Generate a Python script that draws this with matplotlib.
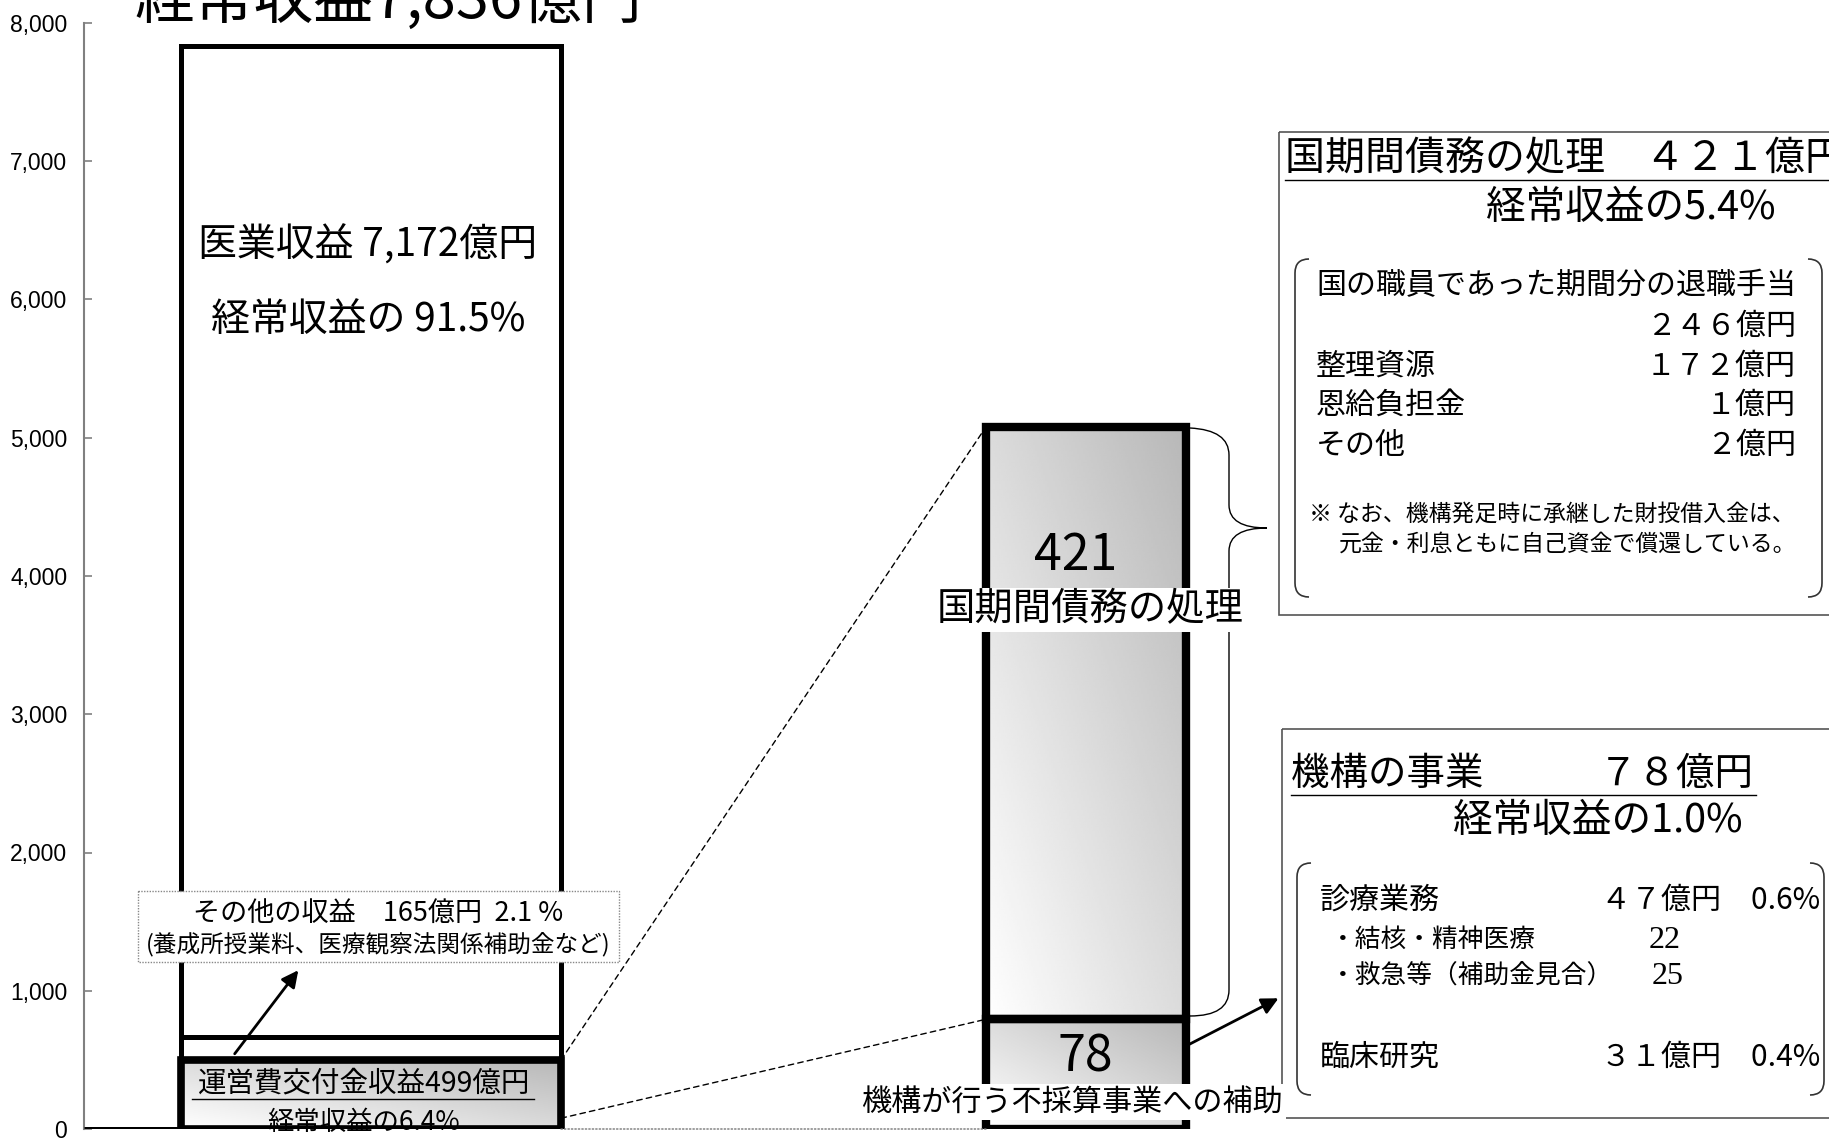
import numpy as np
import matplotlib.pyplot as plt
from matplotlib.patches import Rectangle, PathPatch, ConnectionPatch, FancyArrowPatch
from matplotlib.path import Path
from matplotlib.lines import Line2D

plt.rcParams['font.family'] = ['Noto Sans CJK JP', 'DejaVu Sans']

# values in 億円
total_income = 7836
left_names = ['運営費交付金収益', 'その他の収益', '医業収益']
left_values = [499, 165, 7172]
left_pcts = [6.4, 2.1, 91.5]
right_names = ['機構の事業', '国期間債務の処理']
right_values = [78, 421]
right_pcts = [1.0, 5.4]
yticks = [0, 1000, 2000, 3000, 4000, 5000, 6000, 7000, 8000]
debt_items = ['国の職員であった期間分の退職手当', '整理資源', '恩給負担金', 'その他']
debt_values = ['２４６億円', '１７２億円', '１億円', '２億円']
biz_items = ['診療業務', '臨床研究']
biz_values = ['４７億円　0.6%', '３１億円　0.4%']
care_items = ['・結核・精神医療', '・救急等（補助金見合）']
care_values = [22, 25]

W, H = 1829, 1140
fig = plt.figure(figsize=(W / 100, H / 100), dpi=100)

# main axis: y=0 at px 1129, y=8000 at px 23, spine at px 84
ax = fig.add_axes([84 / W, (H - 1129) / H, (W - 84) / W, (1129 - 23) / H])
ax2 = fig.add_axes(ax.get_position(), sharex=ax)
ov = fig.add_axes([0, 0, 1, 1])
ov.set_xlim(0, W)
ov.set_ylim(H, 0)
ov.axis('off')
ov.patch.set_visible(False)
ax2.axis('off')
ax2.patch.set_visible(False)


def gradient(a, patch, light=1.0, dark=0.72):
    x0, y0 = patch.get_x(), patch.get_y()
    w, h = patch.get_width(), patch.get_height()
    u, v = np.meshgrid(np.linspace(0, 1, 100), np.linspace(0, 1, 200))
    g = light + (dark - light) * (u + v) / 2
    im = a.imshow(g, cmap='gray', vmin=0, vmax=1, extent=[x0, x0 + w, y0, y0 + h],
                  origin='lower', aspect='auto', zorder=1, interpolation='bilinear')
    im.set_clip_path(patch)


# left stacked bar
lb = ax.bar(287, left_values, width=380, bottom=np.cumsum([0] + left_values[:-1]),
            facecolor='none', edgecolor='black', linewidth=[5.5, 3.6, 3.6], zorder=3)
gradient(ax, lb[0])
bar_l = lb[0].get_x()
bar_r = lb[0].get_x() + lb[0].get_width()
ax.hlines(0, 0, bar_l, color='black', lw=3.6, zorder=3)

# right zoomed bar
rb = ax2.bar(1002, right_values, width=200, bottom=np.cumsum([0] + right_values[:-1]),
             facecolor='none', edgecolor='black', linewidth=6, zorder=3)
for p in rb:
    gradient(ax2, p)
rb_l = rb[0].get_x()

ax.set_xlim(0, W - 84)
ax.set_ylim(0, 8000)
ax2.set_ylim(0, 786)
ax.set_yticks(yticks)
ax.set_yticklabels([f'{t:,}' for t in yticks],
                   fontfamily=['Liberation Sans', 'DejaVu Sans'], fontsize=16.5)
ax.tick_params(axis='y', direction='in', length=6, width=1.2, color='#808080', pad=12)
ax.set_xticks([])
for s in ['top', 'right', 'bottom']:
    ax.spines[s].set_visible(False)
ax.spines['left'].set_color('#808080')
ax.spines['left'].set_linewidth(1.5)
ax.patch.set_visible(False)

# zoom connectors
for val, ls, col in [(left_values[0], (0, (4, 3)), 'black'),
                     (right_values[0], (0, (4, 3)), 'black'),
                     (0, (0, (1, 1.5)), '#777777')]:
    fig.add_artist(ConnectionPatch(xyA=(bar_r, val), coordsA=ax.transData,
                                   xyB=(rb_l, val), coordsB=ax2.transData,
                                   linestyle=ls, color=col, lw=1))

# title (clipped at the top edge)
ov.text(134, 18, f'経常収益{total_income:,}億円', fontsize=43, ha='left', va='baseline')

# left bar labels
ov.text(368, 245, f'{left_names[2]} {left_values[2]:,}億円', fontsize=28, ha='center', va='center')
ov.text(368, 320, f'経常収益の {left_pcts[2]}%', fontsize=28, ha='center', va='center')

ov.add_patch(Rectangle((138, 891), 481, 71, facecolor='white', edgecolor='#888888',
                       lw=1, linestyle=(0, (1, 1)), zorder=5))
ov.text(378, 913, f'{left_names[1]}　{left_values[1]}億円  {left_pcts[1]} %', fontsize=19.5,
        ha='center', va='center', zorder=6)
ov.text(378, 944, '(養成所授業料、医療観察法関係補助金など)', fontsize=17,
        ha='center', va='center', zorder=6)
ov.add_patch(FancyArrowPatch((233, 1056), (300, 968), arrowstyle='-|>', mutation_scale=25,
                             color='black', lw=2))

ov.text(364, 1084, f'{left_names[0]}{left_values[0]}億円', fontsize=20.5, ha='center', va='center')
ov.add_line(Line2D([192, 534], [1099, 1099], color='black', lw=1))
ax.text(364, 1122, f'経常収益の{left_pcts[0]}%', fontsize=19, ha='center', va='center',
        transform=ov.transData, zorder=2)

# right bar labels
ov.text(1076, 556, f'{right_values[1]}', fontsize=36, ha='center', va='center')
ov.text(1090, 610, right_names[1], fontsize=27.6, ha='center', va='center',
        bbox=dict(facecolor='white', edgecolor='none', pad=2))
ov.text(1085, 1058, f'{right_values[0]}', fontsize=36, ha='center', va='center')
ov.text(1072, 1102, '機構が行う不採算事業への補助', fontsize=21.7, ha='center', va='center',
        bbox=dict(facecolor='white', edgecolor='none', pad=2), zorder=6)

# brace
brace = Path([(1190, 428), (1229, 430), (1229, 455), (1229, 505), (1229, 528), (1267, 528),
              (1229, 528), (1229, 551), (1229, 990), (1229, 1016), (1190, 1016)],
             [Path.MOVETO, Path.CURVE3, Path.CURVE3, Path.LINETO, Path.CURVE3, Path.CURVE3,
              Path.CURVE3, Path.CURVE3, Path.LINETO, Path.CURVE3, Path.CURVE3])
ov.add_patch(PathPatch(brace, facecolor='none', edgecolor='black', lw=1))
ov.add_patch(FancyArrowPatch((1186, 1046), (1281, 997), arrowstyle='-|>', mutation_scale=25,
                             color='black', lw=2))


def bracket(x0, x1, y0, y1, r=14):
    left = Path([(x0 + r, y0), (x0, y0), (x0, y0 + r), (x0, y1 - r), (x0, y1), (x0 + r, y1)],
                [Path.MOVETO, Path.CURVE3, Path.CURVE3, Path.LINETO, Path.CURVE3, Path.CURVE3])
    right = Path([(x1 - r, y0), (x1, y0), (x1, y0 + r), (x1, y1 - r), (x1, y1), (x1 - r, y1)],
                 [Path.MOVETO, Path.CURVE3, Path.CURVE3, Path.LINETO, Path.CURVE3, Path.CURVE3])
    for pth in (left, right):
        ov.add_patch(PathPatch(pth, facecolor='none', edgecolor='#333333', lw=1.2))


# box 1: debt
ov.add_patch(Rectangle((1279, 132), 600, 483, facecolor='none', edgecolor='#555555', lw=1.2))
ov.text(1285, 159, f'{right_names[1]}　４２１億円', fontsize=28.8, ha='left', va='center')
ov.add_line(Line2D([1285, 1829], [180, 180], color='black', lw=1))
ov.text(1631, 208, f'経常収益の{right_pcts[1]}%', fontsize=28.5, ha='center', va='center')
bracket(1295, 1822, 259, 597)
ov.text(1316, 286, debt_items[0], fontsize=21.6, ha='left', va='center')
ov.text(1796, 326, debt_values[0], fontsize=21.6, ha='right', va='center')
for i, y in enumerate([366, 405, 445]):
    ov.text(1316, y, debt_items[i + 1], fontsize=21.6, ha='left', va='center')
    ov.text(1796, y, debt_values[i + 1], fontsize=21.6, ha='right', va='center')
ov.text(1309, 514, '※ なお、機構発足時に承継した財投借入金は、', fontsize=16.5, ha='left', va='center')
ov.text(1339, 544, '元金・利息ともに自己資金で償還している。', fontsize=16.5, ha='left', va='center')

# box 2: agency business
ov.add_patch(Rectangle((1282, 729), 600, 389, facecolor='none', edgecolor='#555555', lw=1.2))
ov.text(1291, 774, f'{right_names[0]}　　　７８億円', fontsize=27.7, ha='left', va='center')
ov.add_line(Line2D([1291, 1756], [795, 795], color='black', lw=1))
ov.text(1598, 821, f'経常収益の{right_pcts[0]:.1f}%', fontsize=28.5, ha='center', va='center')
bracket(1297, 1824, 863, 1095)
for name, val, y in zip(biz_items, biz_values, [900, 1057]):
    ov.text(1320, y, name, fontsize=21.6, ha='left', va='center')
    ov.text(1820, y, val, fontsize=21.6, ha='right', va='center')
for name, val, y, x in zip(care_items, care_values, [940, 977], [1665, 1668]):
    ov.text(1330, y, name, fontsize=18.5, ha='left', va='center')
    ov.text(x, y, str(val), fontsize=23, ha='center', va='center',
            fontfamily=['Liberation Serif', 'DejaVu Serif'])

fig.savefig('out.png', dpi=100)
